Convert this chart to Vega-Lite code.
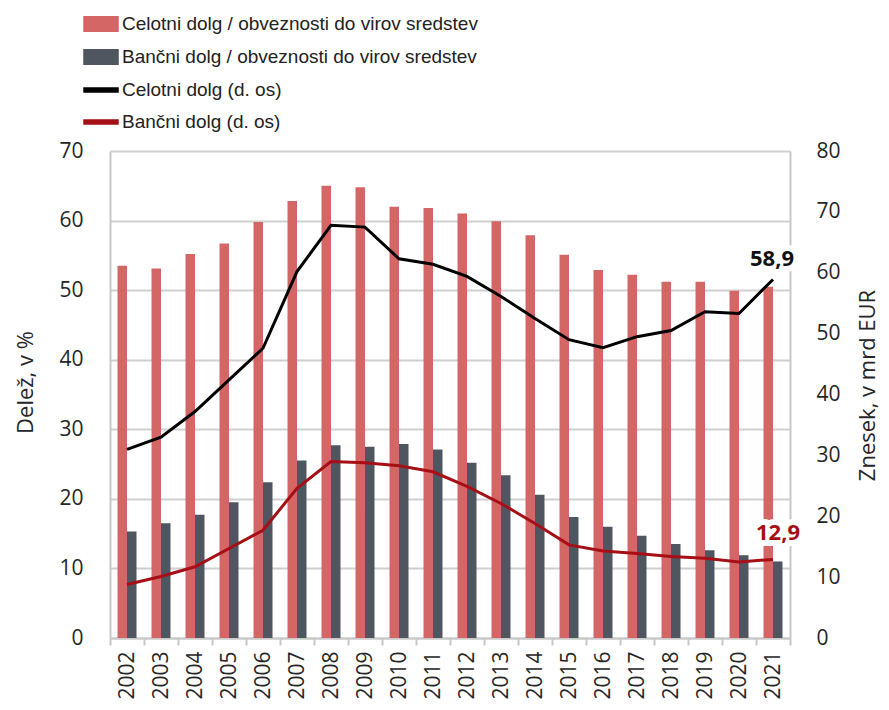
{
  "$schema": "https://vega.github.io/schema/vega-lite/v6.json",
  "width": 680,
  "height": 487,
  "autosize": {"type": "none"},
  "padding": {"left": 110, "top": 151, "right": 99, "bottom": 72},
  "config": {
    "view": {"stroke": null},
    "font": "Open Sans",
    "locale": {"number": {"decimal": ",", "thousands": ".", "grouping": [3], "currency": ["", " €"]}},
    "axis": {
      "labelFont": "Open Sans", "labelFontSize": 21, "labelColor": "#262626",
      "titleFont": "Open Sans", "titleFontSize": 22, "titleFontWeight": "normal", "titleColor": "#262626",
      "domainColor": "#c8c8c8", "domainWidth": 2, "gridColor": "#d0d0d0", "gridWidth": 2,
      "tickColor": "#c8c8c8", "tickWidth": 2
    }
  },
  "data": {"values": [
    {"year": "2002", "series": "Celotni dolg / obveznosti do virov sredstev", "value": 53.5},
    {"year": "2003", "series": "Celotni dolg / obveznosti do virov sredstev", "value": 53.1},
    {"year": "2004", "series": "Celotni dolg / obveznosti do virov sredstev", "value": 55.2},
    {"year": "2005", "series": "Celotni dolg / obveznosti do virov sredstev", "value": 56.7},
    {"year": "2006", "series": "Celotni dolg / obveznosti do virov sredstev", "value": 59.8},
    {"year": "2007", "series": "Celotni dolg / obveznosti do virov sredstev", "value": 62.8},
    {"year": "2008", "series": "Celotni dolg / obveznosti do virov sredstev", "value": 65.0},
    {"year": "2009", "series": "Celotni dolg / obveznosti do virov sredstev", "value": 64.8},
    {"year": "2010", "series": "Celotni dolg / obveznosti do virov sredstev", "value": 62.0},
    {"year": "2011", "series": "Celotni dolg / obveznosti do virov sredstev", "value": 61.8},
    {"year": "2012", "series": "Celotni dolg / obveznosti do virov sredstev", "value": 61.0},
    {"year": "2013", "series": "Celotni dolg / obveznosti do virov sredstev", "value": 59.9},
    {"year": "2014", "series": "Celotni dolg / obveznosti do virov sredstev", "value": 57.9},
    {"year": "2015", "series": "Celotni dolg / obveznosti do virov sredstev", "value": 55.1},
    {"year": "2016", "series": "Celotni dolg / obveznosti do virov sredstev", "value": 52.9},
    {"year": "2017", "series": "Celotni dolg / obveznosti do virov sredstev", "value": 52.2},
    {"year": "2018", "series": "Celotni dolg / obveznosti do virov sredstev", "value": 51.2},
    {"year": "2019", "series": "Celotni dolg / obveznosti do virov sredstev", "value": 51.2},
    {"year": "2020", "series": "Celotni dolg / obveznosti do virov sredstev", "value": 49.9},
    {"year": "2021", "series": "Celotni dolg / obveznosti do virov sredstev", "value": 50.5},
    {"year": "2002", "series": "Bančni dolg / obveznosti do virov sredstev", "value": 15.3},
    {"year": "2003", "series": "Bančni dolg / obveznosti do virov sredstev", "value": 16.5},
    {"year": "2004", "series": "Bančni dolg / obveznosti do virov sredstev", "value": 17.7},
    {"year": "2005", "series": "Bančni dolg / obveznosti do virov sredstev", "value": 19.5},
    {"year": "2006", "series": "Bančni dolg / obveznosti do virov sredstev", "value": 22.4},
    {"year": "2007", "series": "Bančni dolg / obveznosti do virov sredstev", "value": 25.5},
    {"year": "2008", "series": "Bančni dolg / obveznosti do virov sredstev", "value": 27.7},
    {"year": "2009", "series": "Bančni dolg / obveznosti do virov sredstev", "value": 27.5},
    {"year": "2010", "series": "Bančni dolg / obveznosti do virov sredstev", "value": 27.9},
    {"year": "2011", "series": "Bančni dolg / obveznosti do virov sredstev", "value": 27.1},
    {"year": "2012", "series": "Bančni dolg / obveznosti do virov sredstev", "value": 25.2},
    {"year": "2013", "series": "Bančni dolg / obveznosti do virov sredstev", "value": 23.4},
    {"year": "2014", "series": "Bančni dolg / obveznosti do virov sredstev", "value": 20.6},
    {"year": "2015", "series": "Bančni dolg / obveznosti do virov sredstev", "value": 17.4},
    {"year": "2016", "series": "Bančni dolg / obveznosti do virov sredstev", "value": 16.0},
    {"year": "2017", "series": "Bančni dolg / obveznosti do virov sredstev", "value": 14.7},
    {"year": "2018", "series": "Bančni dolg / obveznosti do virov sredstev", "value": 13.5},
    {"year": "2019", "series": "Bančni dolg / obveznosti do virov sredstev", "value": 12.6},
    {"year": "2020", "series": "Bančni dolg / obveznosti do virov sredstev", "value": 11.9},
    {"year": "2021", "series": "Bančni dolg / obveznosti do virov sredstev", "value": 11.0},
    {"year": "2002", "series": "Celotni dolg (d. os)", "value": 31.0},
    {"year": "2003", "series": "Celotni dolg (d. os)", "value": 33.0},
    {"year": "2004", "series": "Celotni dolg (d. os)", "value": 37.2},
    {"year": "2005", "series": "Celotni dolg (d. os)", "value": 42.4},
    {"year": "2006", "series": "Celotni dolg (d. os)", "value": 47.6},
    {"year": "2007", "series": "Celotni dolg (d. os)", "value": 60.2},
    {"year": "2008", "series": "Celotni dolg (d. os)", "value": 67.8},
    {"year": "2009", "series": "Celotni dolg (d. os)", "value": 67.5},
    {"year": "2010", "series": "Celotni dolg (d. os)", "value": 62.3},
    {"year": "2011", "series": "Celotni dolg (d. os)", "value": 61.4},
    {"year": "2012", "series": "Celotni dolg (d. os)", "value": 59.4},
    {"year": "2013", "series": "Celotni dolg (d. os)", "value": 56.1},
    {"year": "2014", "series": "Celotni dolg (d. os)", "value": 52.5},
    {"year": "2015", "series": "Celotni dolg (d. os)", "value": 49.0},
    {"year": "2016", "series": "Celotni dolg (d. os)", "value": 47.7},
    {"year": "2017", "series": "Celotni dolg (d. os)", "value": 49.5},
    {"year": "2018", "series": "Celotni dolg (d. os)", "value": 50.5},
    {"year": "2019", "series": "Celotni dolg (d. os)", "value": 53.6},
    {"year": "2020", "series": "Celotni dolg (d. os)", "value": 53.3},
    {"year": "2021", "series": "Celotni dolg (d. os)", "value": 58.9},
    {"year": "2002", "series": "Bančni dolg (d. os)", "value": 8.8},
    {"year": "2003", "series": "Bančni dolg (d. os)", "value": 10.1},
    {"year": "2004", "series": "Bančni dolg (d. os)", "value": 11.7},
    {"year": "2005", "series": "Bančni dolg (d. os)", "value": 14.7},
    {"year": "2006", "series": "Bančni dolg (d. os)", "value": 17.7},
    {"year": "2007", "series": "Bančni dolg (d. os)", "value": 24.6},
    {"year": "2008", "series": "Bančni dolg (d. os)", "value": 29.0},
    {"year": "2009", "series": "Bančni dolg (d. os)", "value": 28.8},
    {"year": "2010", "series": "Bančni dolg (d. os)", "value": 28.3},
    {"year": "2011", "series": "Bančni dolg (d. os)", "value": 27.3},
    {"year": "2012", "series": "Bančni dolg (d. os)", "value": 24.9},
    {"year": "2013", "series": "Bančni dolg (d. os)", "value": 22.1},
    {"year": "2014", "series": "Bančni dolg (d. os)", "value": 18.8},
    {"year": "2015", "series": "Bančni dolg (d. os)", "value": 15.3},
    {"year": "2016", "series": "Bančni dolg (d. os)", "value": 14.3},
    {"year": "2017", "series": "Bančni dolg (d. os)", "value": 13.9},
    {"year": "2018", "series": "Bančni dolg (d. os)", "value": 13.4},
    {"year": "2019", "series": "Bančni dolg (d. os)", "value": 13.1},
    {"year": "2020", "series": "Bančni dolg (d. os)", "value": 12.5},
    {"year": "2021", "series": "Bančni dolg (d. os)", "value": 12.9}
  ]},
  "resolve": {"scale": {"y": "independent"}},
  "layer": [
    {
      "transform": [{"filter": {"field": "series", "oneOf": ["Celotni dolg / obveznosti do virov sredstev", "Bančni dolg / obveznosti do virov sredstev"]}}],
      "mark": {"type": "bar"},
      "encoding": {
        "x": {
          "field": "year", "type": "ordinal",
          "scale": {"paddingInner": 0, "paddingOuter": 0},
          "axis": {"title": null, "labelAngle": 270, "labelAlign": "right", "labelBaseline": "middle", "tickBand": "extent", "tickSize": 7, "labelPadding": 6, "grid": false}
        },
        "xOffset": {
          "field": "series", "type": "nominal",
          "scale": {"domain": ["Celotni dolg / obveznosti do virov sredstev", "Bančni dolg / obveznosti do virov sredstev"], "paddingOuter": 0.79, "paddingInner": 0}
        },
        "y": {
          "field": "value", "type": "quantitative",
          "scale": {"domain": [0, 70], "nice": false},
          "axis": {"title": "Delež, v %", "orient": "left", "values": [0, 10, 20, 30, 40, 50, 60, 70], "ticks": false, "labelPadding": 27, "grid": true, "titleAngle": 270, "titleX": -85, "titleY": 231, "titleAlign": "center", "titleBaseline": "middle"}
        },
        "color": {
          "field": "series", "type": "nominal",
          "scale": {
            "domain": ["Celotni dolg / obveznosti do virov sredstev", "Bančni dolg / obveznosti do virov sredstev", "Celotni dolg (d. os)", "Bančni dolg (d. os)"],
            "range": ["#d56666", "#4f565f", "#000000", "#a50f15"]
          },
          "legend": {
            "title": null, "orient": "none", "legendX": -27, "legendY": -145, "direction": "vertical",
            "labelFont": "Liberation Sans", "labelFontSize": 19, "labelColor": "#222222",
            "symbolSize": 1156, "labelOffset": 3, "rowPadding": 4, "padding": 0, "labelLimit": 500,
            "encode": {
              "symbols": {
                "update": {
                  "shape": {"signal": "indexof(datum.value, '/') >= 0 ? 'M-1,-0.42H1V0.42H-1Z' : 'M-1,-0.12H1V0.12H-1Z'"},
                  "fill": {"scale": "color", "field": "value"},
                  "stroke": {"value": "transparent"},
                  "opacity": {"value": 1}
                }
              }
            }
          }
        }
      }
    },
    {
      "layer": [
        {
          "transform": [{"filter": {"field": "series", "oneOf": ["Celotni dolg (d. os)", "Bančni dolg (d. os)"]}}],
          "mark": {"type": "line", "strokeWidth": 3},
          "encoding": {
            "x": {"field": "year", "type": "ordinal"},
            "y": {
              "field": "value", "type": "quantitative",
              "scale": {"domain": [0, 80], "nice": false},
              "axis": {"title": "Znesek, v mrd EUR", "orient": "right", "values": [0, 10, 20, 30, 40, 50, 60, 70, 80], "ticks": false, "labelPadding": 26, "grid": false, "titleAngle": 270, "titleX": 77, "titleY": 234, "titleAlign": "center", "titleBaseline": "middle"}
            },
            "color": {"field": "series", "type": "nominal"}
          }
        },
        {
          "transform": [{"filter": "datum.year === '2021' && datum.series === 'Celotni dolg (d. os)'"}],
          "mark": {"type": "text", "fontSize": 22, "fontWeight": "bold", "font": "Open Sans", "dx": -1, "dy": -20, "color": "white", "stroke": "white", "strokeWidth": 12, "strokeJoin": "round"},
          "encoding": {
            "x": {"field": "year", "type": "ordinal"},
            "y": {"field": "value", "type": "quantitative"},
            "text": {"field": "value", "type": "quantitative", "format": ".1f"}
          }
        },
        {
          "transform": [{"filter": "datum.year === '2021' && datum.series === 'Celotni dolg (d. os)'"}],
          "mark": {"type": "text", "fontSize": 22, "fontWeight": "bold", "font": "Open Sans", "dx": -1, "dy": -20, "color": "#111111"},
          "encoding": {
            "x": {"field": "year", "type": "ordinal"},
            "y": {"field": "value", "type": "quantitative"},
            "text": {"field": "value", "type": "quantitative", "format": ".1f"}
          }
        },
        {
          "transform": [{"filter": "datum.year === '2021' && datum.series === 'Bančni dolg (d. os)'"}],
          "mark": {"type": "text", "fontSize": 22, "fontWeight": "bold", "font": "Open Sans", "dx": 5, "dy": -26, "color": "white", "stroke": "white", "strokeWidth": 12, "strokeJoin": "round"},
          "encoding": {
            "x": {"field": "year", "type": "ordinal"},
            "y": {"field": "value", "type": "quantitative"},
            "text": {"field": "value", "type": "quantitative", "format": ".1f"}
          }
        },
        {
          "transform": [{"filter": "datum.year === '2021' && datum.series === 'Bančni dolg (d. os)'"}],
          "mark": {"type": "text", "fontSize": 22, "fontWeight": "bold", "font": "Open Sans", "dx": 5, "dy": -26, "color": "#a50f15"},
          "encoding": {
            "x": {"field": "year", "type": "ordinal"},
            "y": {"field": "value", "type": "quantitative"},
            "text": {"field": "value", "type": "quantitative", "format": ".1f"}
          }
        }
      ]
    }
  ]
}
